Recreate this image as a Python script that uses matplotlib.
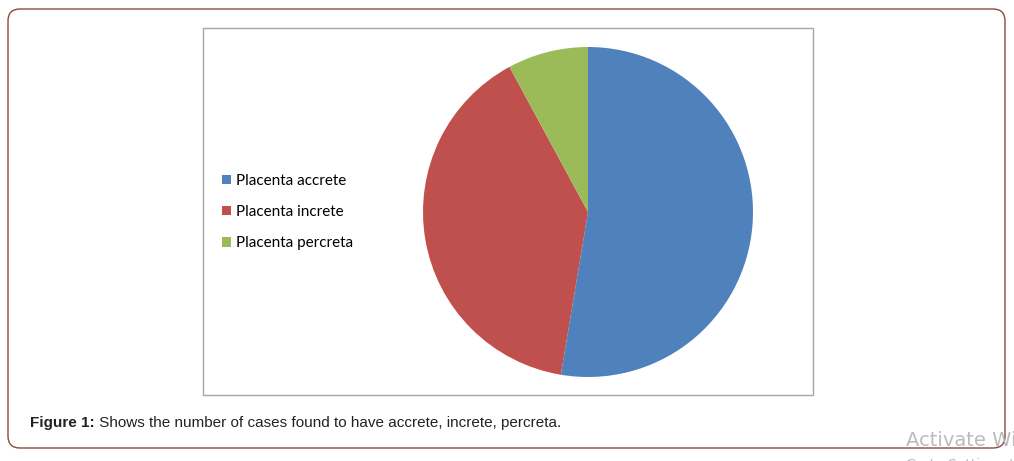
import matplotlib.pyplot as plt
from matplotlib.patches import FancyBboxPatch, Rectangle

# pie data (cases)
labels = ["Placenta accrete", "Placenta increte", "Placenta percreta"]
cases = [20, 15, 3]
colors = ["#4F81BD", "#C0504D", "#9BBB59"]

W, H = 1014, 461
fig = plt.figure(figsize=(W / 100, H / 100), dpi=100)

# background axes in pixel coords (top-left origin)
bg = fig.add_axes([0, 0, 1, 1])
bg.set_xlim(0, W)
bg.set_ylim(H, 0)
bg.axis("off")

# outer rounded frame
bg.add_patch(FancyBboxPatch((8, 9), 997, 439, boxstyle="round,pad=0,rounding_size=12",
                            fill=False, edgecolor="#8B4A3C", linewidth=1.0))
# chart box
bg.add_patch(Rectangle((203, 28), 610, 367, fill=False, edgecolor="#A6A6A6", linewidth=1.0))

# pie
pax = fig.add_axes([423 / W, (H - 377) / H, 330 / W, 330 / H])
wedges, _ = pax.pie(cases, colors=colors, startangle=90, counterclock=False,
                    wedgeprops=dict(linewidth=0))
pax.set_xlim(-1, 1)
pax.set_ylim(-1, 1)
pax.set_aspect("equal")

leg = fig.legend(wedges, labels, loc="center left", bbox_to_anchor=(208 / W, 1 - 212 / H),
                 frameon=False, handlelength=0.6, handleheight=0.6, handletextpad=0.35,
                 labelspacing=1.12, prop=dict(family="Lato", size=11))

# caption
t1 = bg.text(30, 423, "Figure 1:", fontsize=11, fontweight="bold", family="Liberation Sans",
             va="center", ha="left", color="#222222")
bg.annotate(" Shows the number of cases found to have accrete, increte, percreta.",
            xy=(1, 0.5), xycoords=t1, va="center", ha="left", fontsize=11,
            family="Liberation Sans", color="#222222")

# watermark
bg.text(906, 440, "Activate Windows", fontsize=14, color="#BBBBBB", va="center", ha="left")
bg.text(906, 465, "Go to Settings to activate Windows.", fontsize=10, color="#BBBBBB",
        va="center", ha="left")

fig.savefig("out.png", dpi=100)
